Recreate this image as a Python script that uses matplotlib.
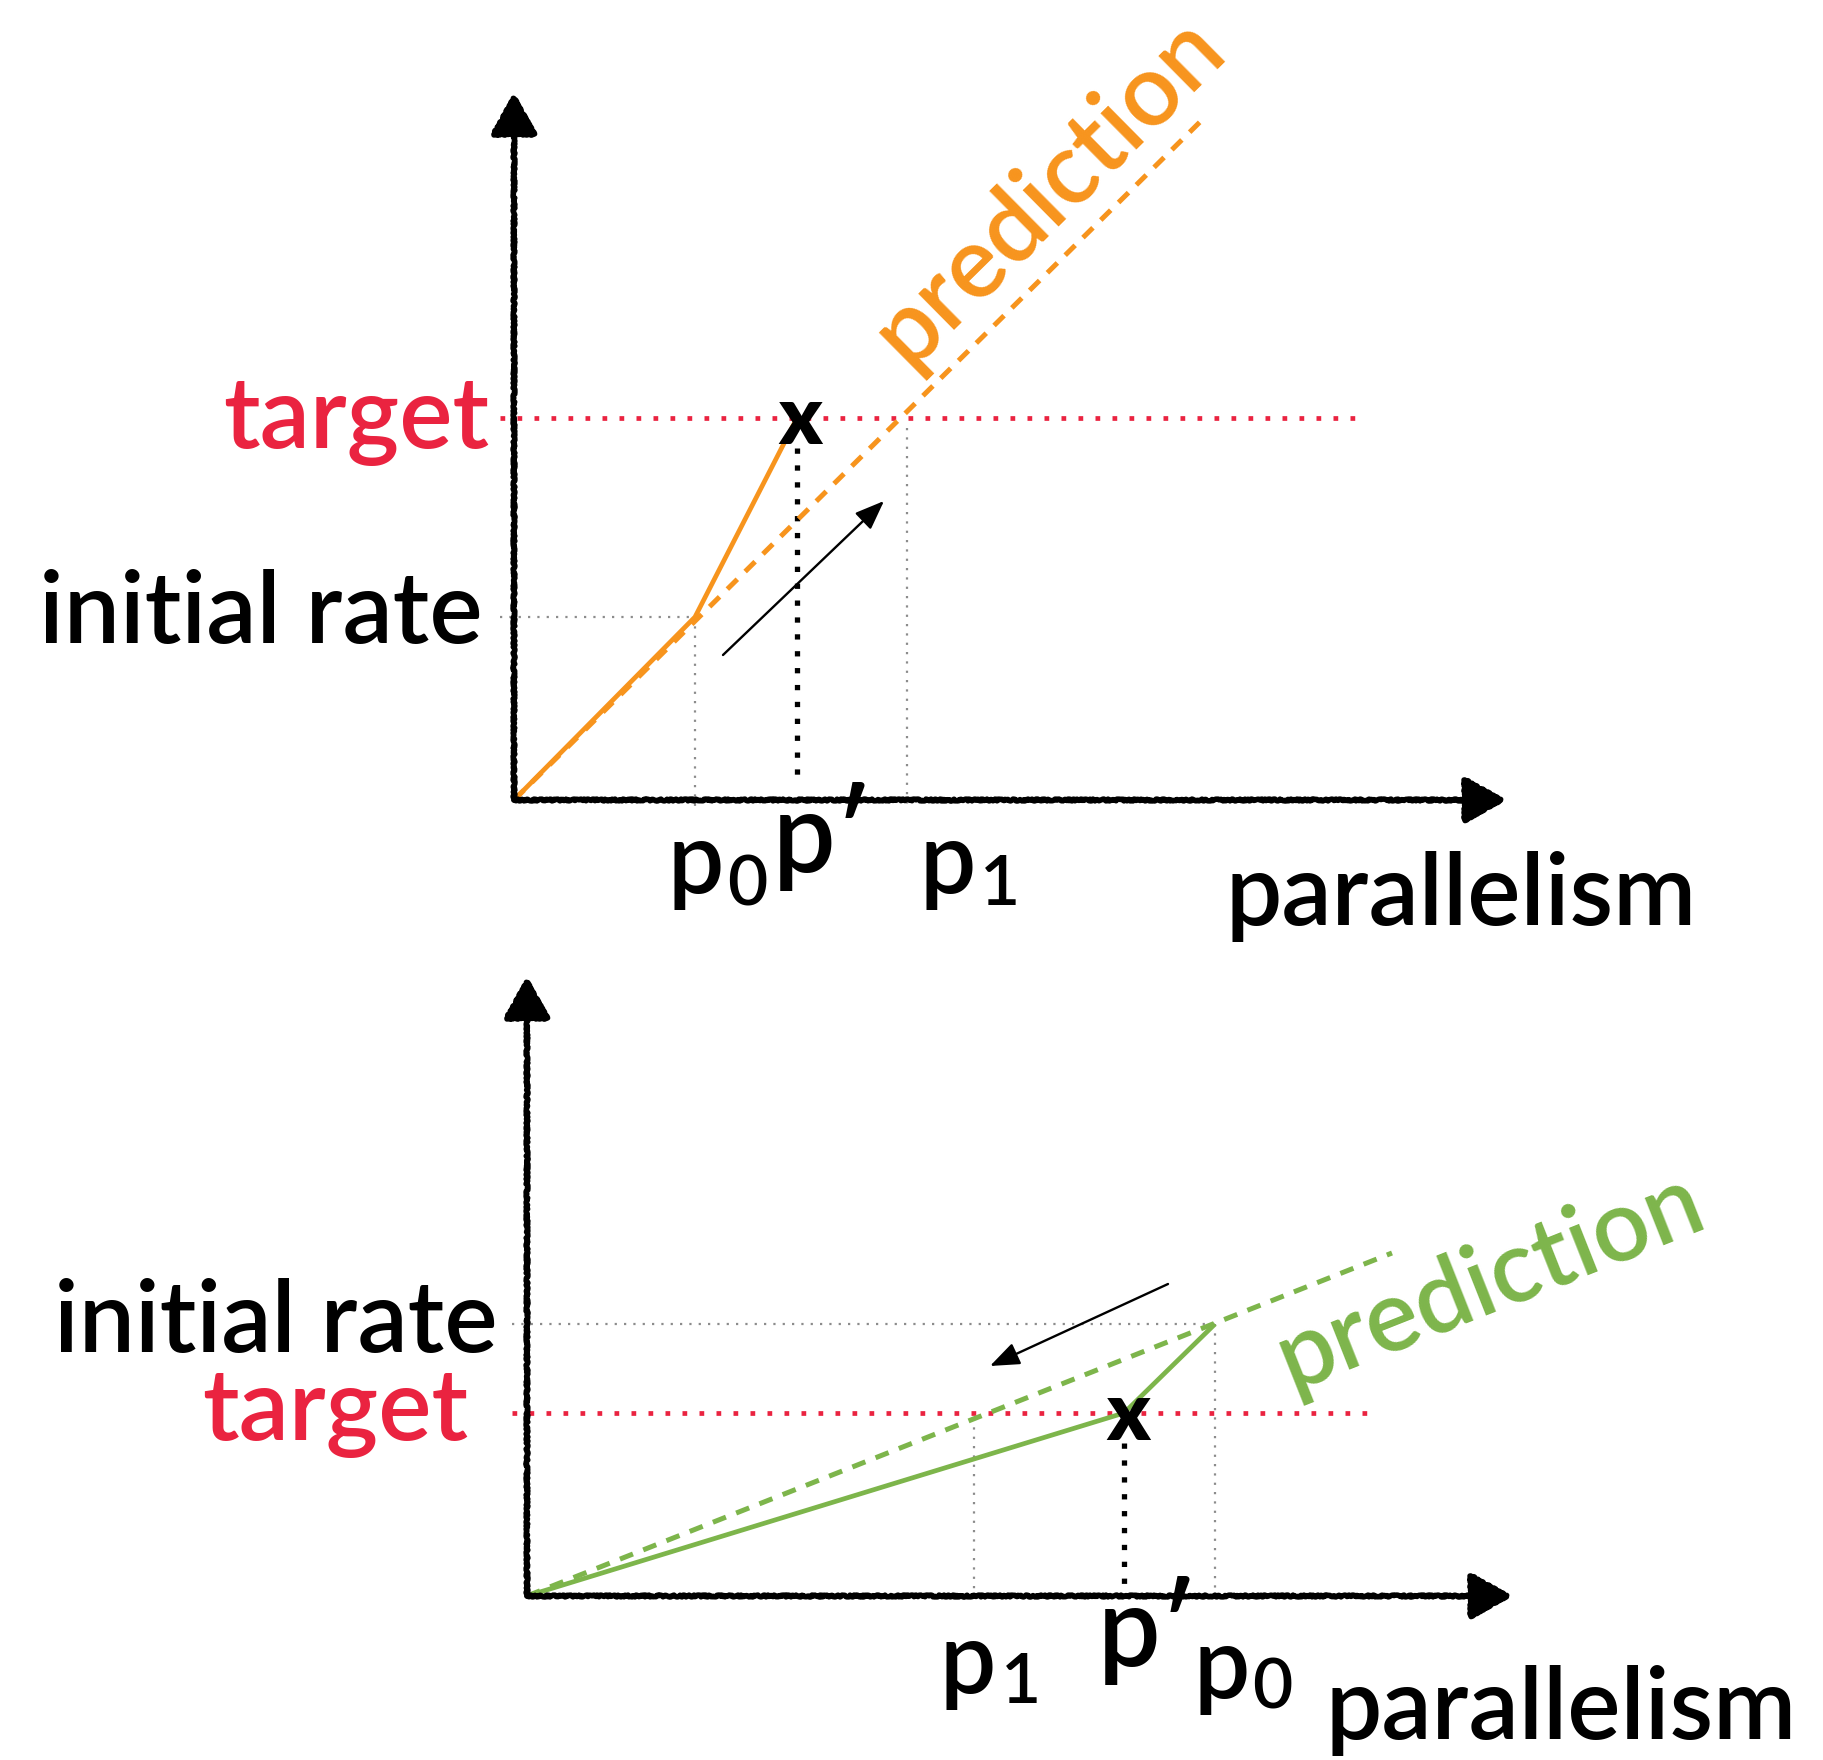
import matplotlib.pyplot as plt

plt.rcParams['font.family'] = ['Lato', 'DejaVu Sans']
plt.rcParams['font.weight'] = 'semibold'

ORANGE = '#F7941D'
GREEN = '#7DB54B'
RED = '#EA2340'
GRAY = '#8C8C8C'

# --- top panel: model under-predicts, parallelism goes up ---
top_p0, top_pprime, top_p1 = 1.81, 2.83, 3.93
top_initial, top_target = 1.83, 3.82
top_observed_x = [0, top_p0, top_pprime]
top_observed_y = [0, top_initial, top_target]
top_pred_x = [0, 6.91]
top_pred_y = [0, 6.83]
top_move_from, top_move_to = (2.09, 1.45), (3.70, 2.99)

# --- bottom panel: model over-predicts, parallelism goes down ---
bot_p0, bot_pprime, bot_p1 = 6.88, 5.97, 4.47
bot_initial, bot_target = 2.72, 1.83
bot_observed_x = [0, bot_pprime, bot_p0]
bot_observed_y = [0, bot_target, bot_initial]
bot_pred_x = [0, 8.65]
bot_pred_y = [0, 3.43]
bot_move_from, bot_move_to = (6.41, 3.12), (4.63, 2.30)

W, H = 1824, 1760
fig = plt.figure(figsize=(W / 100, H / 100), dpi=100)

FS = 72      # main label size
FS_SUB = 50  # subscript size
FS_PRIME = 80


def make_axes(ox, oy, ytop):
    # 100 px per data unit, origin sitting at pixel (ox, oy)
    ax = fig.add_axes([ox / W, (H - oy) / H, 1000 / W, (oy - ytop) / H])
    ax.set_xlim(0, 10)
    ax.set_ylim(0, (oy - ytop) / 100)
    ax.axis('off')
    return ax


def axis_arrow(ax, xy):
    ann = ax.annotate('', xy=xy, xytext=(0, 0), annotation_clip=False,
                      arrowprops=dict(arrowstyle='-|>,head_length=0.8,head_width=0.45',
                                      mutation_scale=32, lw=4.0, color='k',
                                      shrinkA=0, shrinkB=0))
    ann.arrow_patch.set_sketch_params(scale=0.9, length=4, randomness=4)


def label(ax, xy, txt, dx, dy, size=FS, color='k', ha='left'):
    ax.annotate(txt, xy=xy, xytext=(dx, dy), textcoords='offset pixels',
                fontsize=size, color=color, ha=ha, va='baseline',
                annotation_clip=False)


def hline(ax, y, x0, x1, **kw):
    ax.plot([x0, x1], [y, y], clip_on=False, dash_capstyle='butt', **kw)


def vline(ax, x, y0, y1, **kw):
    ax.plot([x, x], [y0, y1], clip_on=False, dash_capstyle='butt', **kw)


red_dots = dict(color=RED, lw=3.4, ls=(0, (1, 2.6)))
gray_dots = dict(color=GRAY, lw=1.6, ls=(0, (1, 3.2)))
black_dots = dict(color='k', lw=3.8, ls=(0, (1, 2.2)))

# ================= top =================
ax = make_axes(514, 800, 80)
hline(ax, top_target, -0.14, 8.45, **red_dots)
hline(ax, top_initial, -0.14, top_p0, **gray_dots)
vline(ax, top_p0, top_initial, -0.08, **gray_dots)
vline(ax, top_p1, top_target - 0.1, -0.05, **gray_dots)
vline(ax, top_pprime, top_target - 0.3, 0.15, **black_dots)
ax.plot(top_pred_x, top_pred_y, color=ORANGE, lw=3.6, ls=(0, (2.8, 2.2)),
        dash_capstyle='butt', clip_on=False)
ax.plot(top_observed_x, top_observed_y, color=ORANGE, lw=3.4, clip_on=False,
        solid_capstyle='butt')
ax.annotate('', xy=top_move_to, xytext=top_move_from,
            arrowprops=dict(arrowstyle='-|>,head_length=0.9,head_width=0.35',
                            mutation_scale=20, lw=1.7, color='k', shrinkA=0, shrinkB=0))
axis_arrow(ax, (9.92, 0))
axis_arrow(ax, (0, 7.07))
ax.text(top_pprime + 0.03, top_target - 0.02, 'x', fontsize=58, fontweight='heavy',
        ha='center', va='center')

label(ax, (0, top_target), 'target', -25, -30, color=RED, ha='right')
label(ax, (0, top_initial), 'initial rate', -31, -26, ha='right')
label(ax, (top_p0, 0), 'p', -28, -93)
label(ax, (top_p0, 0), '0', 32, -105, size=FS_SUB)
label(ax, (top_pprime, 0), 'p\u2032', -24, -72, size=FS_PRIME)
label(ax, (top_p1, 0), 'p', 13, -93)
label(ax, (top_p1, 0), '1', 73, -105, size=FS_SUB)
label(ax, (top_p1, 0), 'parallelism', 318, -125)
ax.text(5.35, 6.1, 'prediction', fontsize=FS, color=ORANGE, rotation=44.7,
        rotation_mode='anchor', ha='center', va='center')

# ================= bottom =================
ax = make_axes(527, 1596, 966)
hline(ax, bot_target, -0.15, 8.46, **red_dots)
hline(ax, bot_initial, -0.15, bot_p0, **gray_dots)
vline(ax, bot_p0, bot_initial, -0.05, **gray_dots)
vline(ax, bot_p1, bot_target - 0.05, -0.05, **gray_dots)
vline(ax, bot_pprime, bot_target - 0.3, 0.12, **black_dots)
ax.plot(bot_pred_x, bot_pred_y, color=GREEN, lw=3.6, ls=(0, (2.8, 2.2)),
        dash_capstyle='butt', clip_on=False)
ax.plot(bot_observed_x, bot_observed_y, color=GREEN, lw=3.4, clip_on=False,
        solid_capstyle='butt')
ax.annotate('', xy=bot_move_to, xytext=bot_move_from,
            arrowprops=dict(arrowstyle='-|>,head_length=0.9,head_width=0.35',
                            mutation_scale=20, lw=1.7, color='k', shrinkA=0, shrinkB=0))
axis_arrow(ax, (9.85, 0))
axis_arrow(ax, (0, 6.19))
ax.text(bot_pprime + 0.04, bot_target - 0.03, 'x', fontsize=58, fontweight='heavy',
        ha='center', va='center')

label(ax, (0, bot_initial), 'initial rate', -29, -28, ha='right')
label(ax, (0, bot_target), 'target', -59, -27, color=RED, ha='right')
label(ax, (bot_p1, 0), 'p', -34, -97)
label(ax, (bot_p1, 0), '1', 27, -107, size=FS_SUB)
label(ax, (bot_pprime, 0), 'p\u2032', -26, -70, size=FS_PRIME)
label(ax, (bot_p0, 0), 'p', -22, -102)
label(ax, (bot_p0, 0), '0', 37, -112, size=FS_SUB)
label(ax, (bot_p0, 0), 'parallelism', 110, -143)
ax.text(9.63, 3.15, 'prediction', fontsize=FS, color=GREEN, rotation=21.6,
        rotation_mode='anchor', ha='center', va='center')

fig.savefig('out.png', dpi=100, facecolor='white')
